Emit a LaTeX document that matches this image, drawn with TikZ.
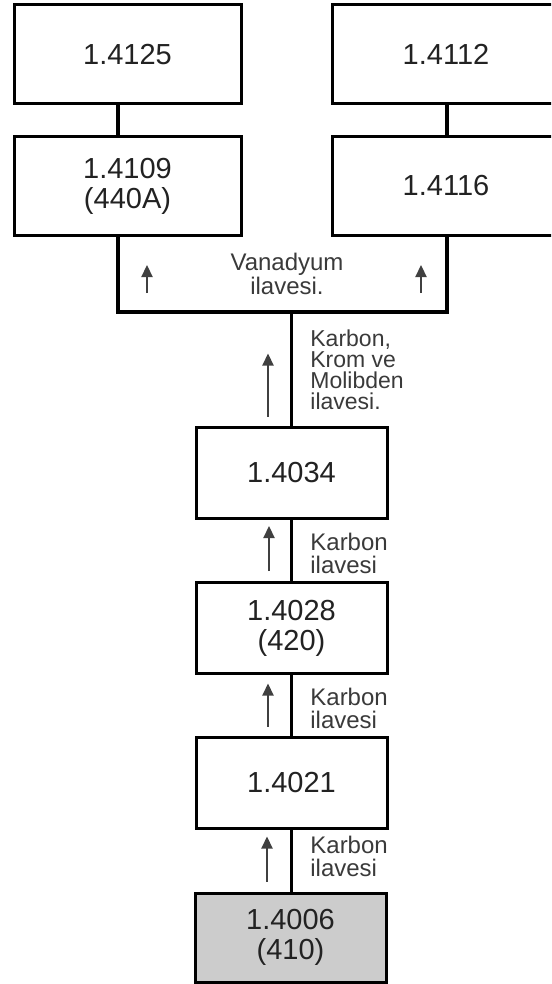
\documentclass[tikz,border=0pt]{standalone}
\usepackage{fontspec}
\setmainfont{Liberation Sans}
\usepackage{xcolor}
\usetikzlibrary{arrows.meta,positioning}
\definecolor{ink}{HTML}{222222}
\definecolor{labelink}{HTML}{3A3A3A}
\definecolor{basefill}{HTML}{CCCCCC}
\tikzset{
  gbox/.style={draw=black,fill=white,line width=1.5pt,align=center,inner sep=2pt,
    text=ink,font=\fontsize{14.5}{15}\selectfont},
  gwide/.style={gbox,minimum width=113.5pt,minimum height=49.5pt},
  gnarrow/.style={gbox,minimum width=95.5pt,minimum height=45.5pt},
  gbase/.style={gnarrow,fill=basefill},
  gline/.style={line width=1.7pt,draw=black},
  garr/.style={-{Triangle[length=6pt,width=5.5pt]},line width=1.1pt,draw=black!75},
  glabel/.style={align=left,anchor=west,inner sep=0pt,text=labelink,
    font=\fontsize{12}{11.5}\selectfont}
}
\begin{document}
\begin{tikzpicture}[x=0.5pt,y=-0.5pt]
  \path[use as bounding box,clip] (0,0) rectangle (551,984);
  % upper branches
  \node[gwide] (g4125) at (127.5,54.5) {1.4125};
  \node[gwide] (g4109) at (127.5,186) {1.4109\\(440A)};
  \node[gwide] (g4112) at (446,54.5) {1.4112};
  \node[gwide] (g4116) at (446,186) {1.4116};
  % main chain
  \node[gnarrow] (g4034) at (291.5,472.5) {1.4034};
  \node[gnarrow] (g4028) at (291.5,628) {1.4028\\(420)};
  \node[gnarrow] (g4021) at (291.5,782.5) {1.4021};
  \node[gbase,minimum height=44.5pt] (g4006) at (290.5,937.5) {1.4006\\(410)};
  % connectors
  \coordinate (fork) at (291.5,312);
  \draw[gline] ([xshift=-4.75pt]g4125.south) -- ([xshift=-4.75pt]g4109.north);
  \draw[gline] ([xshift=0.5pt]g4112.south) -- ([xshift=0.5pt]g4116.north);
  \draw[gline] ([xshift=-4.75pt]g4109.south) |- (fork) -| ([xshift=0.5pt]g4116.south);
  \draw[gline] (fork) -- (g4034.north);
  \draw[gline] (g4034.south) -- (g4028.north);
  \draw[gline] (g4028.south) -- (g4021.north);
  \draw[gline] (g4021.south) -- ([xshift=0.5pt]g4006.north);
  % additions
  \coordinate (vleft) at (147,293);
  \coordinate (vright) at (421,293);
  \draw[garr] (vleft) -- ++(0,-28);
  \draw[garr] (vright) -- ++(0,-28);
  \node[align=center,inner sep=0pt,text=labelink,font=\fontsize{12}{11}\selectfont]
    (vanad) at (287,274) {Vanadyum\\ilavesi.};
  \draw[garr] ([xshift=-11.75pt]g4034.north) ++(0,-9) -- ++(0,-63);
  \node[glabel,font=\fontsize{11.5}{10.5}\selectfont] (krmo) at (310,370) {Karbon,\\Krom ve\\Molibden\\ilavesi.};
  \draw[garr] ([xshift=-11.25pt]g4028.north) ++(0,-10) -- ++(0,-45);
  \node[glabel] (karb1) at (310,553) {Karbon\\ilavesi};
  \draw[garr] ([xshift=-11.75pt]g4021.north) ++(0,-9) -- ++(0,-43);
  \node[glabel] (karb2) at (310,708) {Karbon\\ilavesi};
  \draw[garr] ([xshift=-11.75pt]g4006.north) ++(0,-10) -- ++(0,-45);
  \node[glabel] (karb3) at (310,856) {Karbon\\ilavesi};
\end{tikzpicture}
\end{document}
